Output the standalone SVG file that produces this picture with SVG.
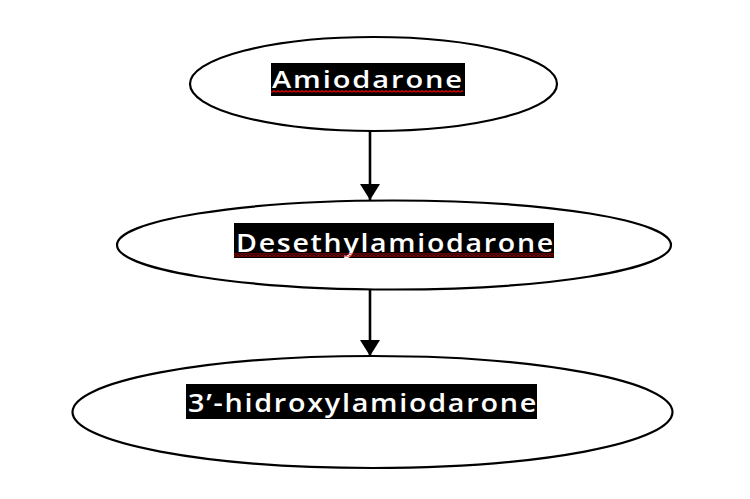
<svg xmlns="http://www.w3.org/2000/svg" width="750" height="499" viewBox="0 0 750 499">
  <defs>
    <style>
      .node ellipse { fill: #ffffff; stroke: #000000; stroke-width: 2.2; }
      .hl { fill: #000000; }
      .label { fill: #ffffff; font-family: "Open Sans", "Liberation Sans", sans-serif; font-weight: 600; }
      .conn line { stroke: #000000; stroke-width: 2.6; }
      .squiggle { fill: url(#wave); }
    </style>
    <pattern id="wave" x="0" y="0" width="4" height="3" patternUnits="userSpaceOnUse">
      <path d="M0,2.3 L2,0.7 L4,2.3" fill="none" stroke="#e00000" stroke-width="1.3"/>
    </pattern>
    <marker id="arrow" viewBox="0 0 16 20" refX="16" refY="10" markerWidth="16" markerHeight="20" markerUnits="userSpaceOnUse" orient="auto">
      <path d="M0,0 L16,10 L0,20 Z" fill="#000000"/>
    </marker>
  </defs>
  <rect width="750" height="499" fill="#ffffff"/>

  <g id="node-amiodarone" class="node">
    <ellipse cx="373.5" cy="84" rx="183.5" ry="47"/>
    <rect class="hl" x="271" y="63" width="194" height="33"/>
    <text class="label" x="272" y="87.5" font-size="23" letter-spacing="1.5" textLength="192" lengthAdjust="spacingAndGlyphs">Amiodarone</text>
    <rect class="squiggle" x="271" y="90" width="192" height="3"/>
  </g>

  <g id="node-desethylamiodarone" class="node">
    <ellipse cx="394" cy="245" rx="277" ry="44.5"/>
    <rect class="hl" x="234" y="223" width="320" height="35"/>
    <text class="label" x="236" y="252" font-size="25" letter-spacing="1.5" textLength="319" lengthAdjust="spacingAndGlyphs">Desethylamiodarone</text>
    <rect class="squiggle" x="234" y="253.5" width="320" height="3"/>
  </g>

  <g id="node-hydroxylamiodarone" class="node">
    <ellipse cx="372.5" cy="412" rx="300" ry="56"/>
    <rect class="hl" x="186" y="384" width="351" height="35"/>
    <text class="label" x="188" y="412" font-size="25" letter-spacing="1.5" textLength="350" lengthAdjust="spacingAndGlyphs">3’-hidroxylamiodarone</text>
  </g>

  <g id="connectors" class="conn">
    <line x1="370" y1="131" x2="370" y2="200" marker-end="url(#arrow)"/>
    <line x1="370" y1="289.5" x2="370" y2="356" marker-end="url(#arrow)"/>
  </g>
</svg>
